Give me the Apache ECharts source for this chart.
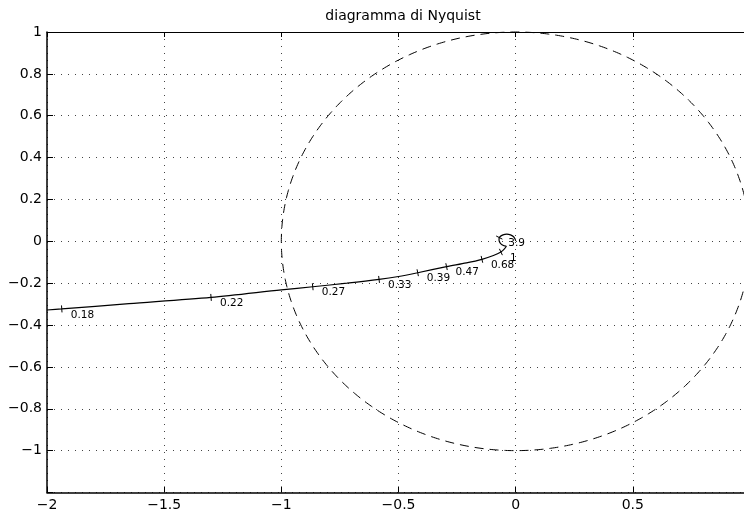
<!DOCTYPE html>
<html><head><meta charset="utf-8">
<script src="https://cdn.jsdelivr.net/npm/echarts@6/dist/echarts.min.js"></script>
<style>html,body{margin:0;padding:0;background:#fff}#c{width:744px;height:513px}</style>
</head><body><div id="c"></div>
<script>
// ---- data ----
const titleText = 'diagramma di Nyquist';
const curveX = [-2.000, -1.937, -1.650, -1.300, -1.000, -0.866, -0.720, -0.583, -0.500, -0.418, -0.295, -0.210, -0.144, -0.095, -0.063, -0.048, -0.040,
                -0.052, -0.063, -0.070, -0.071, -0.066, -0.054, -0.038, -0.022, -0.010, -0.003, 0.000];
const curveY = [-0.328, -0.323, -0.298, -0.268, -0.232, -0.217, -0.200, -0.182, -0.168, -0.150, -0.121, -0.103, -0.086, -0.068, -0.051, -0.036, -0.024,
                -0.020, -0.012, 0.000, 0.012, 0.023, 0.031, 0.034, 0.031, 0.023, 0.012, 0.002];
const markX = [-1.937, -1.300, -0.866, -0.583, -0.418, -0.295, -0.144, -0.063, -0.070];
const markY = [-0.323, -0.268, -0.217, -0.182, -0.150, -0.121, -0.086, -0.051, 0.018];
const markLabels = ['0.18', '0.22', '0.27', '0.33', '0.39', '0.47', '0.68', '1', '3.9'];
const unitCircle = [[0, 0, 1]]; // centre x, centre y, radius
const xMin = -2, xMax = 1, xStep = 0.5;
const yMin = -1.2, yMax = 1, yStep = 0.2;

// ---- chart ----
const FONT = '"DejaVu Sans", sans-serif';
const chart = echarts.init(document.getElementById('c'), null, {renderer: 'canvas'});
function fmtNum(v, dec) {
  const r = Math.round(v * Math.pow(10, dec)) / Math.pow(10, dec);
  if (Math.abs(r) < 1e-9) return '0';
  return String(r).replace('-', '\u2212');
}
const gridLine = {show: true, lineStyle: {color: '#444', width: 1, type: [1, 6]}};
const axisLineStyle = {show: true, onZero: false, lineStyle: {color: '#000', width: 1.5}};
const curveData = curveX.map((x, i) => [x, curveY[i]]);

chart.setOption({
  animation: false,
  backgroundColor: '#fff',
  graphic: [{
    type: 'text', x: 403, y: 16,
    style: {text: titleText, font: '14px ' + FONT, fill: '#000', align: 'center', verticalAlign: 'middle', textAlign: 'center', textVerticalAlign: 'middle'}
  }],
  grid: {left: 47, top: 32, right: -6, bottom: 20.5, show: false, containLabel: false, outerBoundsMode: 'none'},
  xAxis: [{
    type: 'value', min: xMin, max: xMax, interval: xStep, position: 'bottom',
    axisLine: axisLineStyle,
    axisTick: {show: true, inside: true, length: 6, lineStyle: {color: '#000', width: 1}},
    axisLabel: {margin: 6, color: '#000', fontFamily: 'DejaVu Sans', fontSize: 14, formatter: v => fmtNum(v, 2)},
    splitLine: gridLine
  }, {
    type: 'value', min: xMin, max: xMax, interval: xStep, position: 'top',
    axisLine: {show: true, onZero: false, lineStyle: {color: '#000', width: 1.2}},
    axisTick: {show: true, inside: true, length: 5, lineStyle: {color: '#000', width: 1}},
    axisLabel: {show: false}, splitLine: {show: false}
  }],
  yAxis: [{
    type: 'value', min: yMin, max: yMax, interval: yStep,
    axisLine: axisLineStyle,
    axisTick: {show: true, inside: true, length: 6, lineStyle: {color: '#000', width: 1}},
    axisLabel: {margin: 5, color: '#000', fontFamily: 'DejaVu Sans', fontSize: 14,
      formatter: v => (v < -1.1 ? '' : fmtNum(v, 1))},
    splitLine: gridLine
  }],
  series: [{
    type: 'custom', data: unitCircle, silent: true, z: 3,
    renderItem: function (params, api) {
      const cx = api.value(0), cy = api.value(1), r = api.value(2);
      const c = api.coord([cx, cy]);
      const e = api.coord([cx + r, cy]);
      const f = api.coord([cx, cy + r]);
      const rx = e[0] - c[0], ry = c[1] - f[1];
      const pts = [];
      for (let k = 0; k <= 720; k++) {
        const a = k * Math.PI / 360;
        pts.push([c[0] + rx * Math.cos(a), c[1] - ry * Math.sin(a)]);
      }
      return {type: 'polyline', shape: {points: pts}, style: {stroke: '#000', lineWidth: 1, lineDash: [9, 6], fill: null}};
    }
  }, {
    type: 'line', data: curveData, showSymbol: false, smooth: 0.3, z: 4, silent: true,
    lineStyle: {color: '#000', width: 1.2}
  }, {
    type: 'custom', data: markX.map((x, i) => [x, markY[i], i]), z: 5, silent: true,
    renderItem: function (params, api) {
      const p = api.coord([api.value(0), api.value(1)]);
      let bd = Infinity, bdx = 1, bdy = 0;
      for (let k = 0; k < curveX.length - 1; k++) {
        const a = api.coord([curveX[k], curveY[k]]);
        const b = api.coord([curveX[k + 1], curveY[k + 1]]);
        const dx = b[0] - a[0], dy = b[1] - a[1];
        const L2 = dx * dx + dy * dy || 1;
        let t = ((p[0] - a[0]) * dx + (p[1] - a[1]) * dy) / L2;
        t = Math.max(0, Math.min(1, t));
        const qx = a[0] + t * dx, qy = a[1] + t * dy;
        const d = Math.hypot(p[0] - qx, p[1] - qy);
        if (d < bd) { bd = d; bdx = dx; bdy = dy; }
      }
      const L = Math.hypot(bdx, bdy) || 1;
      const nx = -bdy / L, ny = bdx / L, h = 3.5;
      return {
        type: 'group', children: [
          {type: 'line', shape: {x1: p[0] - nx * h, y1: p[1] - ny * h, x2: p[0] + nx * h, y2: p[1] + ny * h},
            style: {stroke: '#000', lineWidth: 1}},
          {type: 'text', x: p[0] + 9, y: p[1] + 6,
            style: {text: markLabels[api.value(2)], font: '10.5px ' + FONT, fill: '#000',
              align: 'left', verticalAlign: 'middle', textAlign: 'left', textVerticalAlign: 'middle'}}
        ]
      };
    }
  }]
});
</script></body></html>
